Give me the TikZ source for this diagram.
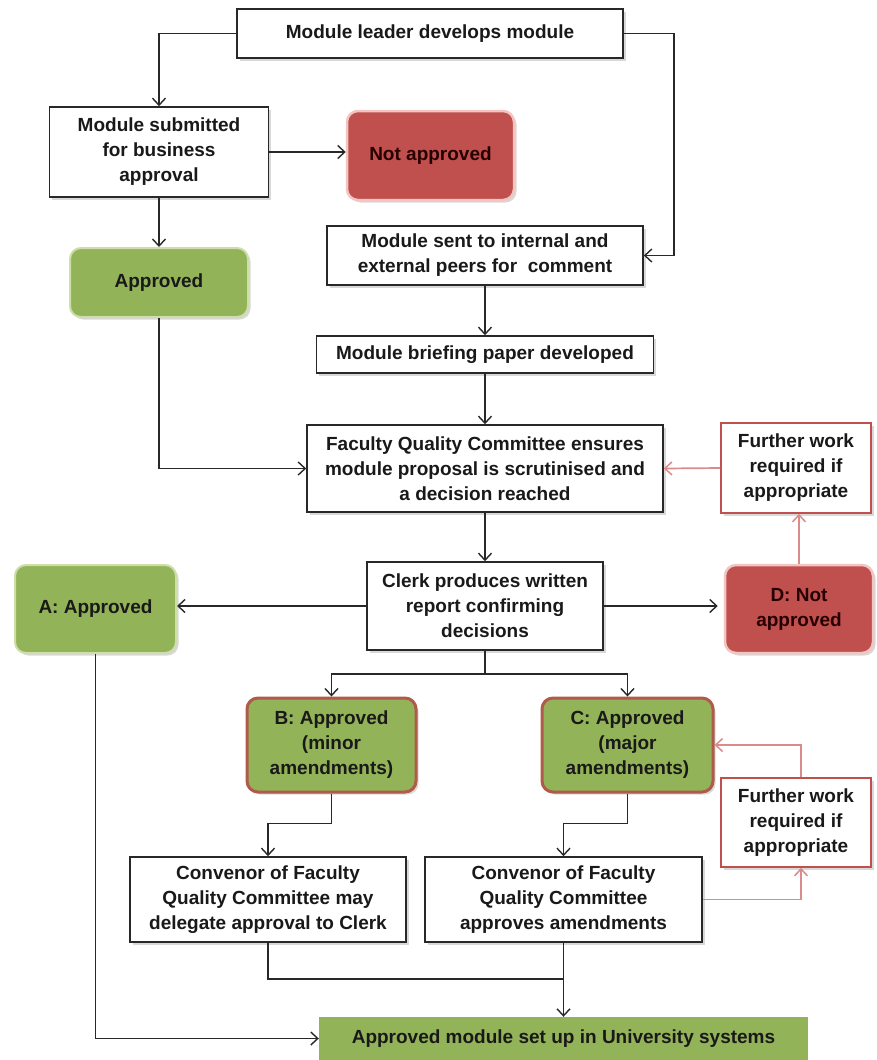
\documentclass[tikz,border=0pt]{standalone}
\usepackage{fontspec}
\setmainfont{Liberation Sans}
\usetikzlibrary{arrows.meta,shadows,calc}
\definecolor{gfill}{RGB}{147,179,88}
\definecolor{gedge}{RGB}{206,222,168}
\definecolor{rfill}{RGB}{192,80,77}
\definecolor{redge}{RGB}{242,196,194}
\definecolor{bcedge}{RGB}{176,90,75}
\definecolor{fwedge}{RGB}{192,80,77}
\definecolor{rline}{RGB}{217,140,138}
\definecolor{lcol}{RGB}{40,40,40}
\tikzset{
  base/.style={font=\fontsize{19}{25}\selectfont\bfseries, align=center, inner sep=0pt, text=black!90},
  shad/.style={drop shadow={opacity=0.3, shadow xshift=2.5pt, shadow yshift=-2.5pt}},
  wbox/.style={base, shad, rectangle, draw=lcol, line width=1.6pt, fill=white},
  gbox/.style={base, shad, rectangle, rounded corners=11pt, draw=gedge, line width=2pt, fill=gfill},
  rbox/.style={base, shad, rectangle, rounded corners=11pt, draw=redge, line width=2.5pt, fill=rfill, text=black!85!red},
  bcbox/.style={base, shad, rectangle, rounded corners=11pt, draw=bcedge, line width=3pt, fill=gfill},
  fwbox/.style={base, shad, rectangle, draw=fwedge, line width=1.6pt, fill=white},
  finbox/.style={base, rectangle, fill=gfill},
  arr/.style={draw=lcol, line width=1.6pt, -{Straight Barb[length=7pt,width=13pt,line width=1.4pt]}},
  ln/.style={draw=lcol, line width=1.6pt},
  rarr/.style={draw=rline, line width=1.7pt, -{Straight Barb[length=7pt,width=13pt,line width=1.5pt]}},
}
\begin{document}
\begin{tikzpicture}[x=1pt,y=-1pt]
\useasboundingbox[fill=white] (0,0) rectangle (877,1060);

\node[wbox, minimum width=386pt, minimum height=49pt] (top) at (430,33.5) {Module leader develops module};
\node[wbox, minimum width=219pt, minimum height=90pt] (sub) at (159,152) {Module submitted\\for business\\approval};
\node[rbox, minimum width=167pt, minimum height=89pt] (notap) at (430.5,155.5) {Not approved};
\node[gbox, minimum width=178pt, minimum height=69pt] (appr) at (159,282.5) {Approved};
\node[wbox, minimum width=316pt, minimum height=59pt] (sent) at (485,255.5) {Module sent to internal and\\external peers for\ \ comment};
\node[wbox, minimum width=337pt, minimum height=37pt] (brief) at (485,354.5) {Module briefing paper developed};
\node[wbox, minimum width=356pt, minimum height=87pt] (fqc) at (485,468.5) {Faculty Quality Committee ensures\\module proposal is scrutinised and\\a decision reached};
\node[fwbox, minimum width=150pt, minimum height=90pt] (fw1) at (796,468) {Further work\\required if\\appropriate};
\node[wbox, minimum width=236pt, minimum height=88pt] (clerk) at (485,606) {Clerk produces written\\report confirming\\decisions};
\node[gbox, minimum width=161pt, minimum height=88pt] (A) at (95.5,609) {A: Approved};
\node[rbox, minimum width=148pt, minimum height=88pt] (D) at (799,609) {D: Not\\approved};
\node[bcbox, minimum width=169pt, minimum height=94pt] (B) at (331.5,745) {B: Approved\\(minor\\amendments)};
\node[bcbox, minimum width=171pt, minimum height=94pt] (C) at (627.5,745) {C: Approved\\(major\\amendments)};
\node[wbox, minimum width=276pt, minimum height=85pt] (conv1) at (268,899.5) {Convenor of Faculty\\Quality Committee may\\delegate approval to Clerk};
\node[wbox, minimum width=277pt, minimum height=85pt] (conv2) at (563.5,899.5) {Convenor of Faculty\\Quality Committee\\approves amendments};
\node[fwbox, minimum width=150pt, minimum height=89pt] (fw2) at (796,822.5) {Further work\\required if\\appropriate};
\node[finbox, minimum width=489pt, minimum height=43pt] (final) at (563.5,1038.5) {Approved module set up in University systems};

% connectors
\draw[arr] (top.west) -| (sub.north);
\draw[arr] (top.east) -- ++(50,0) |- (sent.east);
\draw[arr] (sub.east) -- (sub.east -| notap.west);
\draw[arr] (sub.south) -- (appr.north);
\draw[arr] (appr.south) |- (fqc.west);
\draw[arr] (sent.south) -- (brief.north);
\draw[arr] (brief.south) -- (fqc.north);
\draw[rarr] (fw1.west) -- (fqc.east);
\draw[arr] (fqc.south) -- (clerk.north);
\draw[arr] (clerk.west) -- (clerk.west -| A.east);
\draw[arr] (clerk.east) -- ([xshift=-6pt]clerk.east -| D.west);
\draw[rarr] (D.north) -- (D.north |- fw1.south);
\coordinate (split) at ($(clerk.south)+(0,23)$);
\draw[ln] (clerk.south) -- (split);
\draw[arr] (split) -| (B.north);
\draw[arr] (split) -| (C.north);
\draw[arr] (B.south) -- ++(0,30) -| (conv1.north);
\draw[arr] (C.south) -- ++(0,30) -| (conv2.north);
\draw[rarr] (conv2.east) -| ([xshift=5pt]fw2.south);
\draw[rarr] ([xshift=5pt]fw2.north) |- (C.east);
\coordinate (join) at ($(conv2.south)+(0,36)$);
\draw[ln] (conv1.south) |- (join);
\draw[arr] (conv2.south) -- (final.north);
\draw[arr] (A.south) |- (final.west);
\end{tikzpicture}
\end{document}
